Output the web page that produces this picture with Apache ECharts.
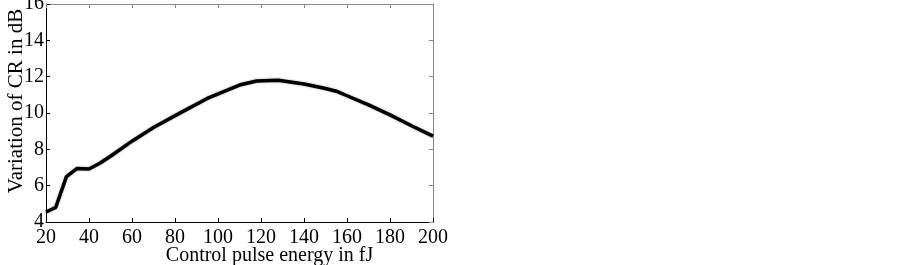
<!DOCTYPE html>
<html><head><meta charset="utf-8">
<script src="https://cdn.jsdelivr.net/npm/echarts@6/dist/echarts.min.js"></script>
<style>html,body{margin:0;padding:0;background:#fff}#c{width:903px;height:265px}</style>
</head><body><div id="c"></div>
<script>
var energy = [20, 24.5, 29.5, 34.5, 40, 45, 50, 60, 70, 82, 95, 110, 118, 128, 140, 150, 155, 160, 170, 180, 190, 200];
var crVariation = [4.55, 4.8, 6.5, 6.95, 6.92, 7.23, 7.62, 8.45, 9.2, 9.98, 10.8, 11.54, 11.76, 11.8, 11.6, 11.35, 11.2, 10.95, 10.45, 9.9, 9.3, 8.73];
var xTicks = [20, 40, 60, 80, 100, 120, 140, 160, 180, 200];
var yTicks = [4, 6, 8, 10, 12, 14, 16];

var font = 'Liberation Serif';
var chart = echarts.init(document.getElementById('c'));
var pts = energy.map(function(e, i){ return [e, crVariation[i]]; });
chart.setOption({
  animation: false,
  grid: {left: 46, right: 470, top: 4, bottom: 43, containLabel: false, outerBoundsMode: 'none'},
  xAxis: [{
    type: 'value', min: 20, max: 200, interval: 20,
    name: 'Control pulse energy in fJ', nameLocation: 'middle', nameGap: 24, nameMoveOverlap: false,
    nameTextStyle: {fontFamily: font, fontSize: 20, color: '#000', padding: [0, 0, 0, 60]},
    axisLine: {lineStyle: {color: '#000', width: 1}},
    axisTick: {inside: true, length: 4, lineStyle: {color: '#000'}},
    axisLabel: {fontFamily: font, fontSize: 20, color: '#000', margin: 6,
      formatter: function(v){ return xTicks.indexOf(v) >= 0 ? String(v) : ''; }},
    splitLine: {show: false}
  }, {
    type: 'value', position: 'top', min: 20, max: 200, interval: 20,
    axisLine: {lineStyle: {color: '#888', width: 1}},
    axisTick: {inside: true, length: 4, lineStyle: {color: '#888'}},
    axisLabel: {show: false}, splitLine: {show: false}
  }],
  yAxis: [{
    type: 'value', min: 4, max: 16, interval: 2,
    name: 'Variation of CR in dB', nameLocation: 'middle', nameGap: 19, nameMoveOverlap: false,
    nameTextStyle: {fontFamily: font, fontSize: 21, color: '#000', padding: [0, 0, 0, 24]},
    axisLine: {show: true, lineStyle: {color: '#000', width: 1}},
    axisTick: {show: true, inside: true, length: 4, lineStyle: {color: '#000'}},
    axisLabel: {fontFamily: font, fontSize: 20, color: '#000', margin: 2,
      formatter: function(v){ return yTicks.indexOf(v) >= 0 ? String(v) : ''; }},
    splitLine: {show: false}
  }, {
    type: 'value', position: 'right', min: 4, max: 16, interval: 2,
    axisLine: {show: true, lineStyle: {color: '#888', width: 1}},
    axisTick: {show: true, inside: true, length: 4, lineStyle: {color: '#888'}},
    axisLabel: {show: false}, splitLine: {show: false}
  }],
  series: [{
    type: 'line', data: pts, showSymbol: false, smooth: false,
    lineStyle: {color: '#000', width: 3.5, shadowColor: 'rgba(0,0,0,0.4)', shadowBlur: 2},
    xAxisIndex: 0, yAxisIndex: 0
  }]
});
</script></body></html>
